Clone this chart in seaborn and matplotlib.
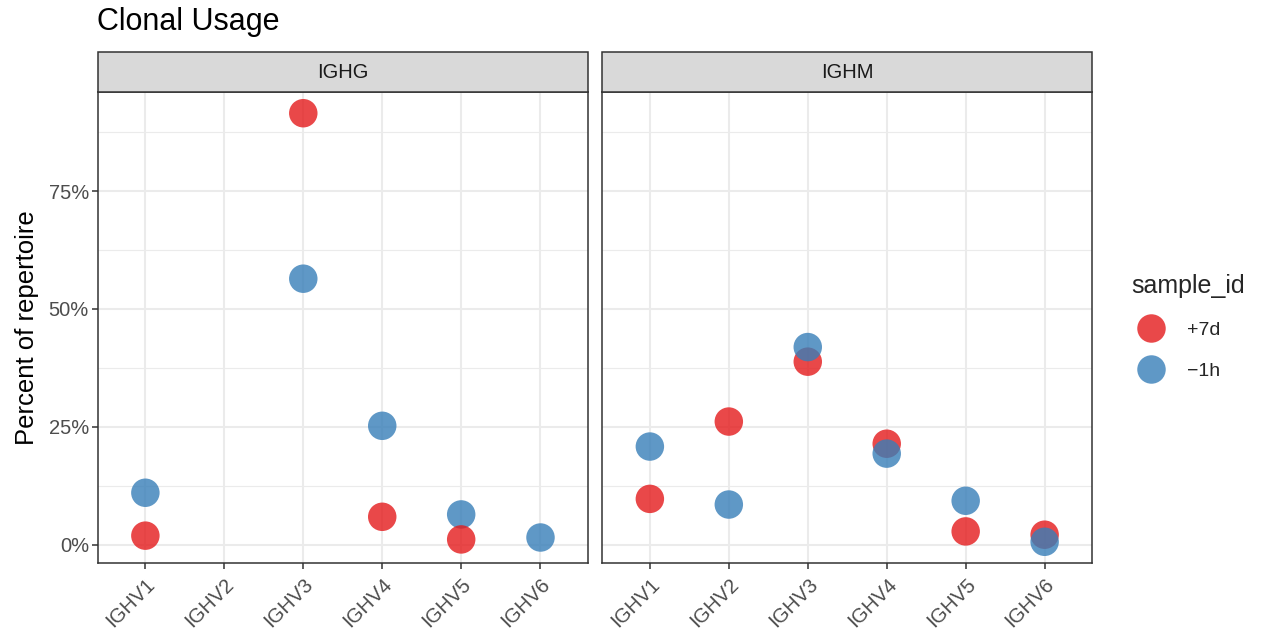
import numpy as np
import pandas as pd
import matplotlib
matplotlib.use("Agg")
import matplotlib.pyplot as plt
from matplotlib.patches import Rectangle
from matplotlib.lines import Line2D
from matplotlib.ticker import FixedLocator, FuncFormatter
import seaborn as sns

# values (percent of repertoire)
genes = ['IGHV1', 'IGHV2', 'IGHV3', 'IGHV4', 'IGHV5', 'IGHV6']
chains = ['IGHG', 'IGHM']
samples = ['+7d', '\u22121h']

ighg_7d = [1.9, np.nan, 91.5, 5.9, 1.1, np.nan]
ighg_1h = [11.0, np.nan, 56.4, 25.2, 6.4, 1.7]
ighm_7d = [9.7, 26.1, 38.8, 21.4, 2.8, 2.1]
ighm_1h = [20.8, 8.5, 41.9, 19.3, 9.3, 0.6]

colors = {'+7d': '#E41A1C', '\u22121h': '#377EB8'}

sns.set_style("white")
plt.rcParams['font.family'] = ['Liberation Sans', 'DejaVu Sans']


def make_df(chain, first, first_vals, second, second_vals):
    # row order sets which dot sits on top
    rows = []
    for s, vals in [(first, first_vals), (second, second_vals)]:
        for g, v in zip(genes, vals):
            rows.append({'chain': chain, 'v_gene': g, 'sample_id': s, 'pct': v})
    return pd.DataFrame(rows)


df_g = make_df('IGHG', '\u22121h', ighg_1h, '+7d', ighg_7d)
df_m = make_df('IGHM', '+7d', ighm_7d, '\u22121h', ighm_1h)
data = {'IGHG': df_g, 'IGHM': df_m}

fig, axes = plt.subplots(1, 2, figsize=(12.61, 6.3), dpi=100, sharey=True)
fig.subplots_adjust(left=98 / 1261, right=1092 / 1261, top=1 - 92 / 630,
                    bottom=1 - 563 / 630, wspace=0.0306)

for ax, ch in zip(axes, chains):
    sns.stripplot(data=data[ch], x='v_gene', y='pct', hue='sample_id',
                  order=genes, hue_order=samples, palette=colors,
                  jitter=False, size=20.5, alpha=0.8, linewidth=0,
                  legend=False, ax=ax, zorder=3)
    ax.set_xlim(-0.6, 5.6)
    ax.set_ylim(-3.9, 96.0)
    ax.yaxis.set_major_locator(FixedLocator([0, 25, 50, 75]))
    ax.yaxis.set_minor_locator(FixedLocator([12.5, 37.5, 62.5, 87.5]))
    ax.yaxis.set_major_formatter(FuncFormatter(lambda v, p: f"{v:.0f}%"))
    ax.grid(True, which='major', color='#EBEBEB', linewidth=1.5, zorder=0)
    ax.grid(True, which='minor', axis='y', color='#EBEBEB', linewidth=0.8, zorder=0)
    ax.set_axisbelow(True)
    for sp in ax.spines.values():
        sp.set_color('#333333')
        sp.set_linewidth(1.1)
        sp.set_visible(True)
    ax.tick_params(axis='both', which='major', length=4.5, width=1.1,
                   color='#333333', labelcolor='#4D4D4D', labelsize=14.5,
                   left=True, bottom=True)
    ax.tick_params(axis='y', which='minor', length=0)
    ax.tick_params(axis='y', pad=2)
    ax.tick_params(axis='x', pad=4)
    for lab in ax.get_xticklabels():
        lab.set_rotation(45)
        lab.set_ha('right')
        lab.set_rotation_mode('anchor')
    ax.set_xlabel('')
    ax.set_ylabel('')

    # facet strip
    strip_h = 40 / 471
    ax.add_patch(Rectangle((0, 1), 1, strip_h, transform=ax.transAxes,
                           facecolor='#D9D9D9', edgecolor='#333333',
                           linewidth=1.1, clip_on=False, zorder=5))
    ax.text(0.5, 1 + strip_h / 2, ch, transform=ax.transAxes, ha='center',
            va='center', fontsize=14.5, color='#1A1A1A', zorder=6)

axes[1].tick_params(axis='y', which='both', left=False, labelleft=False)
axes[0].set_ylabel('Percent of repertoire', fontsize=18.5, color='black', labelpad=7)

fig.text(97 / 1261, 1 - 22 / 630, 'Clonal Usage', fontsize=22,
         ha='left', va='center', color='black')

handles = [Line2D([], [], marker='o', linestyle='', markersize=20.5,
                  markerfacecolor=colors[s], markeredgewidth=0, alpha=0.8,
                  label=s) for s in samples]
leg = fig.legend(handles=handles, title='sample_id', loc='upper left',
                 bbox_to_anchor=(1124 / 1261, 1 - 266 / 630), frameon=False,
                 fontsize=14, title_fontsize=18, handletextpad=0.85,
                 labelspacing=1.2, borderaxespad=0)
leg._legend_box.align = 'left'

fig.savefig('out.png', dpi=100)
